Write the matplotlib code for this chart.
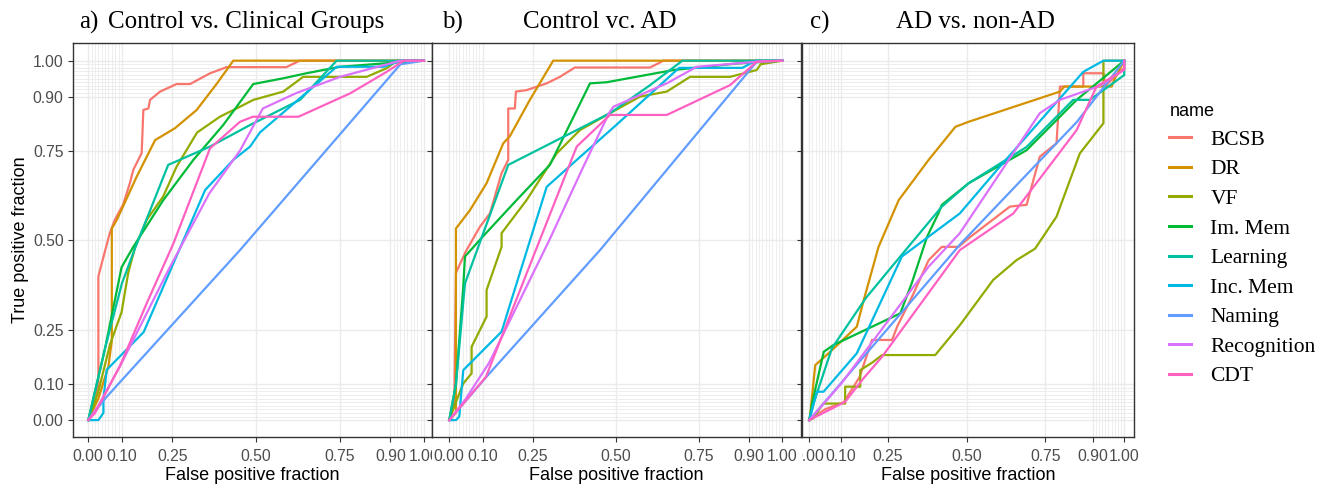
import matplotlib
matplotlib.use("Agg")
import matplotlib.pyplot as plt
from matplotlib.transforms import Bbox, TransformedBbox

names = ["BCSB", "DR", "VF", "Im. Mem", "Learning", "Inc. Mem", "Naming", "Recognition", "CDT"]
colors = ["#F8766D", "#D39200", "#93AA00", "#00BA38", "#00C19F", "#00B9E3", "#619CFF", "#DB72FB", "#FF61C3"]

major_breaks = [0, 0.1, 0.25, 0.5, 0.75, 0.9, 1.0]
major_labels = ["0.00", "0.10", "0.25", "0.50", "0.75", "0.90", "1.00"]
minor_breaks = [i / 100 for i in range(0, 11)] + [i / 100 for i in range(90, 101)]

titles_tag = ["a)", "b)", "c)"]
titles_text = ["Control vs. Clinical Groups", "Control vc. AD", "AD vs. non-AD"]

# ---------------- Panel a: Control vs. Clinical Groups ----------------
a_bcsb_x = [0, 0.02, 0.03, 0.03, 0.04, 0.064, 0.079, 0.104, 0.124, 0.134, 0.159, 0.164, 0.179, 0.184, 0.214, 0.263, 0.303, 0.363, 0.412, 0.59, 0.63, 1.0]
a_bcsb_y = [0, 0.05, 0.10, 0.40, 0.436, 0.52, 0.557, 0.60, 0.66, 0.696, 0.743, 0.863, 0.867, 0.891, 0.914, 0.935, 0.935, 0.965, 0.982, 0.982, 1.0, 1.0]
a_dr_x = [0, 0.03, 0.06, 0.07, 0.07, 0.085, 0.144, 0.199, 0.258, 0.323, 0.382, 0.432, 1.0]
a_dr_y = [0, 0.06, 0.15, 0.22, 0.533, 0.557, 0.677, 0.779, 0.812, 0.863, 0.935, 1.0, 1.0]
a_vf_x = [0, 0.03, 0.0646, 0.099, 0.119, 0.139, 0.174, 0.223, 0.263, 0.324, 0.392, 0.452, 0.492, 0.581, 0.64, 0.829, 0.889, 0.92, 1.0]
a_vf_y = [0, 0.08, 0.21, 0.30, 0.41, 0.48, 0.557, 0.622, 0.705, 0.80, 0.844, 0.872, 0.891, 0.914, 0.955, 0.955, 0.979, 1.0, 1.0]
a_im_x = [0, 0.05, 0.099, 0.134, 0.2234, 0.313, 0.402, 0.482, 0.4915, 0.581, 0.65, 0.70, 0.75, 0.889, 1.0]
a_im_y = [0, 0.2, 0.425, 0.482, 0.612, 0.724, 0.821, 0.923, 0.935, 0.951, 0.965, 0.974, 0.983, 0.993, 1.0]
a_learn_x = [0, 0.05, 0.10, 0.14, 0.238, 0.3625, 0.482, 0.631, 0.74, 1.0]
a_learn_y = [0, 0.2, 0.38, 0.48, 0.71, 0.761, 0.821, 0.891, 1.0, 1.0]
a_inc_x = [0, 0.01, 0.03, 0.045, 0.045, 0.055, 0.165, 0.348, 0.432, 0.482, 0.511, 0.74, 0.88, 0.93, 1.0]
a_inc_y = [0, 0, 0, 0.02, 0.06, 0.14, 0.245, 0.64, 0.724, 0.761, 0.80, 0.983, 0.983, 1.0, 1.0]
a_nam_x = [0, 0.05, 0.452, 0.93, 1.0]
a_nam_y = [0, 0.06, 0.473, 0.99, 1.0]
a_rec_x = [0, 0.03, 0.10, 0.24, 0.36, 0.452, 0.52, 0.62, 0.75, 0.93, 1.0]
a_rec_y = [0, 0.04, 0.16, 0.42, 0.63, 0.75, 0.867, 0.91, 0.955, 1.0, 1.0]
a_cdt_x = [0, 0.02, 0.094, 0.174, 0.253, 0.3625, 0.452, 0.49, 0.626, 0.78, 0.889, 0.94, 1.0]
a_cdt_y = [0, 0.02, 0.15, 0.325, 0.49, 0.756, 0.83, 0.844, 0.844, 0.909, 0.969, 1.0, 1.0]

# ---------------- Panel b: Control vc. AD ----------------
b_bcsb_x = [0, 0.015, 0.02, 0.05, 0.092, 0.122, 0.157, 0.177, 0.177, 0.197, 0.2, 0.232, 0.2925, 0.332, 0.377, 0.603, 0.643, 1.0]
b_bcsb_y = [0, 0.05, 0.41, 0.47, 0.538, 0.575, 0.687, 0.724, 0.867, 0.867, 0.914, 0.918, 0.937, 0.955, 0.981, 0.981, 1.0, 1.0]
b_dr_x = [0, 0.02, 0.02, 0.062, 0.112, 0.162, 0.182, 0.242, 0.312, 1.0]
b_dr_y = [0, 0.02, 0.533, 0.584, 0.659, 0.77, 0.79, 0.891, 1.0, 1.0]
b_vf_x = [0, 0.02, 0.042, 0.067, 0.067, 0.112, 0.112, 0.157, 0.157, 0.232, 0.3225, 0.3925, 0.4826, 0.5727, 0.653, 0.7228, 0.843, 0.923, 0.935, 1.0]
b_vf_y = [0, 0.05, 0.102, 0.13, 0.204, 0.288, 0.362, 0.482, 0.52, 0.612, 0.742, 0.807, 0.854, 0.90, 0.914, 0.955, 0.955, 0.974, 0.99, 1.0]
b_im_x = [0, 0.02, 0.042, 0.047, 0.10, 0.20, 0.302, 0.4225, 0.4726, 0.673, 0.863, 1.0]
b_im_y = [0, 0.1, 0.371, 0.455, 0.51, 0.61, 0.71, 0.937, 0.94, 0.974, 0.992, 1.0]
b_learn_x = [0, 0.02, 0.047, 0.10, 0.177, 0.4826, 0.60, 0.70, 1.0]
b_learn_y = [0, 0.1, 0.38, 0.515, 0.71, 0.854, 0.93, 1.0, 1.0]
b_inc_x = [0, 0.02, 0.03, 0.042, 0.157, 0.2925, 0.39, 0.50, 0.69, 0.88, 0.92, 1.0]
b_inc_y = [0, 0, 0.01, 0.139, 0.246, 0.649, 0.73, 0.82, 0.98, 0.98, 1.0, 1.0]
b_nam_x = [0, 0.112, 0.4526, 0.923, 1.0]
b_nam_y = [0, 0.121, 0.473, 0.997, 1.0]
b_rec_x = [0, 0.05, 0.12, 0.30, 0.40, 0.48, 0.493, 0.653, 0.743, 0.923, 1.0]
b_rec_y = [0, 0.06, 0.16, 0.50, 0.70, 0.855, 0.872, 0.937, 0.983, 0.997, 1.0]
b_cdt_x = [0, 0.11, 0.25, 0.3826, 0.4826, 0.653, 0.843, 0.923, 1.0]
b_cdt_y = [0, 0.12, 0.45, 0.761, 0.849, 0.849, 0.932, 0.997, 1.0]

# ---------------- Panel c: AD vs. non-AD ----------------
c_bcsb_x = [0, 0.05, 0.11, 0.16, 0.199, 0.263, 0.279, 0.33, 0.379, 0.421, 0.474, 0.506, 0.637, 0.69, 0.732, 0.785, 0.796, 0.87, 0.87, 0.934, 0.94, 1.0, 1.0]
c_bcsb_y = [0, 0.03, 0.05, 0.12, 0.223, 0.223, 0.26, 0.35, 0.445, 0.482, 0.482, 0.506, 0.594, 0.599, 0.733, 0.77, 0.928, 0.928, 0.965, 0.965, 0.93, 0.98, 1.0]
c_dr_x = [0, 0.003, 0.019, 0.0615, 0.151, 0.173, 0.22, 0.284, 0.379, 0.464, 0.506, 0.796, 0.81, 0.96, 0.97, 1.0]
c_dr_y = [0, 0.014, 0.153, 0.186, 0.26, 0.334, 0.482, 0.612, 0.724, 0.816, 0.83, 0.914, 0.928, 0.928, 0.95, 1.0]
c_vf_x = [0, 0.013, 0.044, 0.114, 0.114, 0.162, 0.162, 0.2, 0.231, 0.40, 0.478, 0.584, 0.658, 0.717, 0.785, 0.859, 0.934, 0.934, 1.0]
c_vf_y = [0, 0.005, 0.046, 0.046, 0.093, 0.093, 0.139, 0.16, 0.181, 0.181, 0.264, 0.39, 0.445, 0.477, 0.566, 0.742, 0.826, 1.0, 1.0]
c_im_x = [0, 0.01, 0.046, 0.077, 0.289, 0.325, 0.374, 0.41, 0.421, 0.506, 0.69, 0.849, 1.0]
c_im_y = [0, 0.05, 0.19, 0.209, 0.297, 0.38, 0.51, 0.575, 0.599, 0.659, 0.751, 0.891, 1.0]
c_learn_x = [0, 0.015, 0.072, 0.18, 0.284, 0.421, 0.506, 0.69, 0.838, 0.891, 1.0, 1.0]
c_learn_y = [0, 0.05, 0.20, 0.34, 0.45, 0.594, 0.659, 0.76, 0.891, 0.891, 0.96, 1.0]
c_inc_x = [0, 0.024, 0.0455, 0.151, 0.294, 0.478, 0.60, 0.87, 0.934, 1.0]
c_inc_y = [0, 0.079, 0.079, 0.186, 0.455, 0.575, 0.70, 0.969, 1.0, 1.0]
c_nam_x = [0, 0.48, 0.85, 1.0]
c_nam_y = [0, 0.49, 0.83, 1.0]
c_rec_x = [0, 0.1, 0.379, 0.478, 0.60, 0.732, 0.796, 0.923, 1.0, 1.0]
c_rec_y = [0, 0.1, 0.427, 0.52, 0.68, 0.854, 0.891, 0.93, 0.975, 1.0]
c_cdt_x = [0, 0.114, 0.172, 0.231, 0.478, 0.648, 0.849, 0.912, 1.0, 1.0]
c_cdt_y = [0, 0.051, 0.116, 0.176, 0.473, 0.575, 0.807, 0.928, 0.975, 1.0]

panels = [
    [(a_bcsb_x, a_bcsb_y), (a_dr_x, a_dr_y), (a_vf_x, a_vf_y), (a_im_x, a_im_y), (a_learn_x, a_learn_y),
     (a_inc_x, a_inc_y), (a_nam_x, a_nam_y), (a_rec_x, a_rec_y), (a_cdt_x, a_cdt_y)],
    [(b_bcsb_x, b_bcsb_y), (b_dr_x, b_dr_y), (b_vf_x, b_vf_y), (b_im_x, b_im_y), (b_learn_x, b_learn_y),
     (b_inc_x, b_inc_y), (b_nam_x, b_nam_y), (b_rec_x, b_rec_y), (b_cdt_x, b_cdt_y)],
    [(c_bcsb_x, c_bcsb_y), (c_dr_x, c_dr_y), (c_vf_x, c_vf_y), (c_im_x, c_im_y), (c_learn_x, c_learn_y),
     (c_inc_x, c_inc_y), (c_nam_x, c_nam_y), (c_rec_x, c_rec_y), (c_cdt_x, c_cdt_y)],
]

W, H = 1330, 484
fig = plt.figure(figsize=(W / 100, H / 100), dpi=100)
fig.patch.set_facecolor("white")

# pixel boxes (left, right, top, bottom) and x limits of each (cropped) panel
boxes = [(72.7, 432.0, 42.7, 437.0), (432.3, 801.0, 42.7, 437.0), (802.0, 1134.0, 42.7, 437.0)]
xlims = [(-0.0465, 1.024), (-0.051, 1.056), (-0.023, 1.031)]
ylim = (-0.047, 1.050)

SANS = ["Liberation Sans", "DejaVu Sans"]
SERIF = ["Liberation Serif", "DejaVu Serif"]

axes = []
for i, (l, r, t, b) in enumerate(boxes):
    ax = fig.add_axes([l / W, 1 - b / H, (r - l) / W, (b - t) / H])
    axes.append(ax)
    ax.set_xlim(*xlims[i])
    ax.set_ylim(*ylim)
    for v in minor_breaks:
        ax.axvline(v, color="#EBEBEB", lw=0.6, zorder=0)
        ax.axhline(v, color="#EBEBEB", lw=0.6, zorder=0)
    for v in major_breaks:
        ax.axvline(v, color="#EBEBEB", lw=1.0, zorder=0)
        ax.axhline(v, color="#EBEBEB", lw=1.0, zorder=0)
    for (xs, ys), c in zip(panels[i], colors):
        ax.plot(xs, ys, color=c, lw=1.6, solid_joinstyle="round", zorder=2)
    for s in ax.spines.values():
        s.set_color("#333333")
        s.set_linewidth(1.0)
    ax.set_xticks(major_breaks)
    ax.set_xticklabels(major_labels)
    ax.set_yticks(major_breaks)
    ax.tick_params(axis="both", colors="#333333", length=3.5, width=0.8, labelcolor="#4D4D4D",
                   labelsize=11.3, pad=3)
    ax.tick_params(axis="x", pad=5)
    for lab in ax.get_xticklabels():
        lab.set_family(SANS)
    if i == 0:
        ax.set_yticklabels(major_labels)
        for lab in ax.get_yticklabels():
            lab.set_family(SANS)
        ax.set_ylabel("True positive fraction", family=SANS, fontsize=13, color="black", labelpad=3)
    else:
        ax.set_yticklabels([])
    ax.set_xlabel("False positive fraction", family=SANS, fontsize=13, color="black", labelpad=2)

# crop tick labels like the combined image (panel a right end, panel c left end)
clip_a = TransformedBbox(Bbox.from_extents(0, 0, 432.0 / W, 1), fig.transFigure)
for lab in axes[0].get_xticklabels():
    lab.set_clip_box(clip_a)
    lab.set_clip_on(True)
clip_c = TransformedBbox(Bbox.from_extents(802.0 / W, 0, 1, 1), fig.transFigure)
for lab in axes[2].get_xticklabels():
    lab.set_clip_box(clip_c)
    lab.set_clip_on(True)

# titles
tag_x = [79, 442, 810]
text_x = [246, 600, 975]
for tx, tt, px, cx in zip(titles_tag, titles_text, tag_x, text_x):
    fig.text(px / W, 1 - 22 / H, tx, family=SERIF, fontsize=18, ha="left", va="center")
    fig.text(cx / W, 1 - 22 / H, tt, family=SERIF, fontsize=18, ha="center", va="center")

# legend
handles = axes[2].get_lines()[-len(names):]
leg = fig.legend(handles, names, loc="upper left", bbox_to_anchor=(1150 / W, 1 - 84 / H),
                 frameon=False, prop={"family": SERIF, "size": 15.5}, handlelength=1.0,
                 handletextpad=0.9, labelspacing=0.44, alignment="left")
leg.set_title("name", prop={"family": SANS, "size": 13})
for lh in leg.get_lines():
    lh.set_linewidth(2.2)

fig.savefig("out.png", dpi=100, facecolor="white")
